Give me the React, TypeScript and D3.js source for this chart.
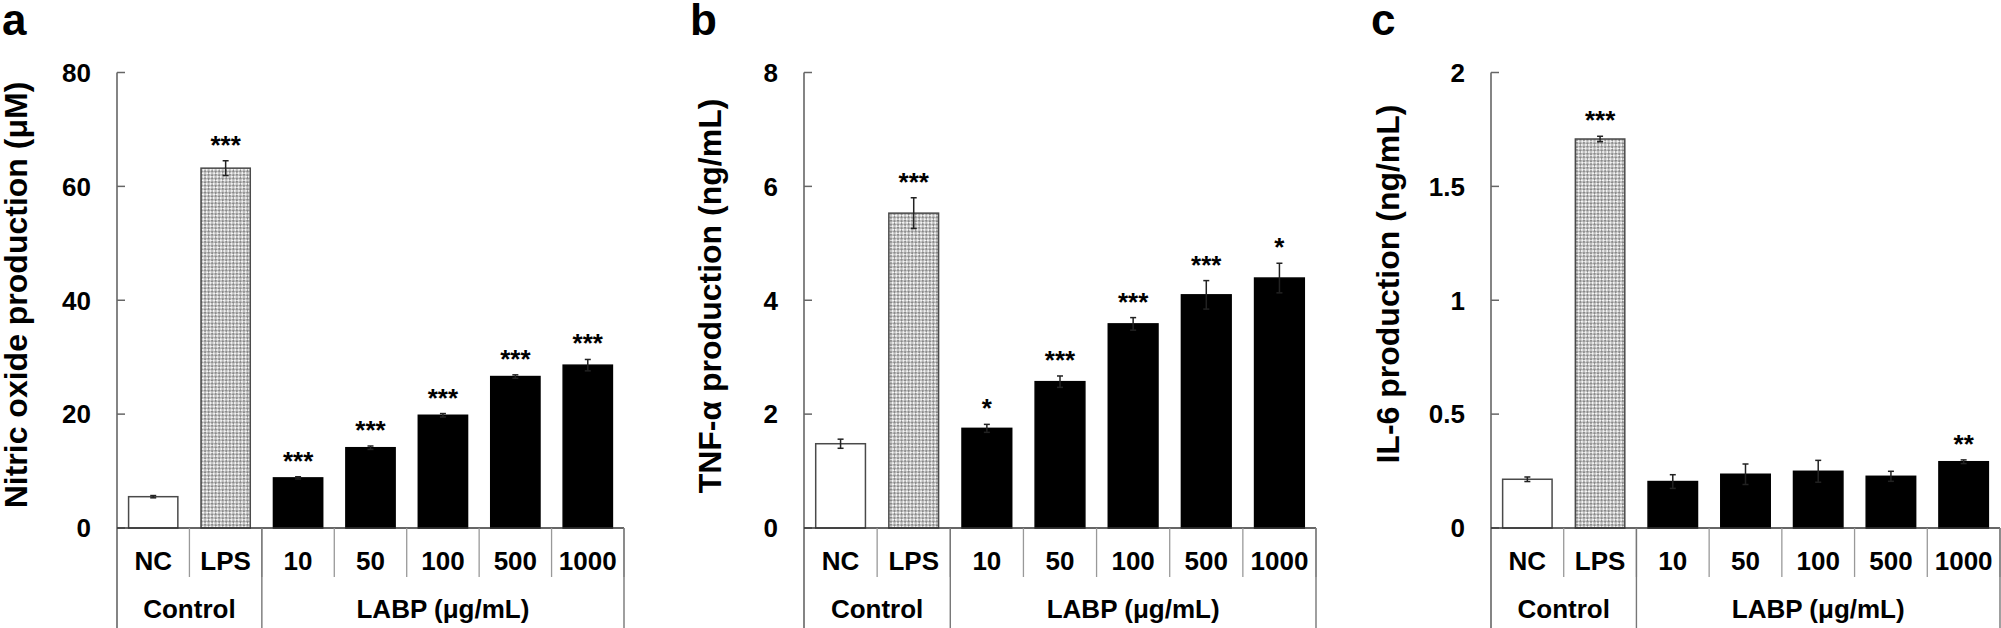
import React from "react";
import * as d3 from "d3";

// ---- data ----
const categories = ["NC", "LPS", "10", "50", "100", "500", "1000"];
const groupLabels = ["Control", "LABP (μg/mL)"];
const groupSpans = [2, 5];

const noValues = [5.5, 63.2, 8.8, 14.1, 19.8, 26.6, 28.6];
const noErrors = [0.2, 1.3, 0.2, 0.3, 0.3, 0.3, 1.0];
const noStars = ["", "***", "***", "***", "***", "***", "***"];
const noTicks = [0, 20, 40, 60, 80];

const tnfValues = [1.48, 5.53, 1.75, 2.57, 3.585, 4.095, 4.39];
const tnfErrors = [0.08, 0.27, 0.07, 0.1, 0.11, 0.25, 0.26];
const tnfStars = ["", "***", "*", "***", "***", "***", "*"];
const tnfTicks = [0, 2, 4, 6, 8];

const il6Values = [0.214, 1.708, 0.204, 0.236, 0.249, 0.227, 0.291];
const il6Errors = [0.01, 0.012, 0.03, 0.045, 0.048, 0.022, 0.008];
const il6Stars = ["", "***", "", "", "", "", "**"];
const il6Ticks = [0, 0.5, 1, 1.5, 2];

const panelLetters = ["a", "b", "c"];
const panelTitles = [
  "Nitric oxide production (μM)",
  "TNF-α production (ng/mL)",
  "IL-6 production (ng/mL)",
];

// ---- layout ----
const WIDTH = 2001;
const HEIGHT = 628;
const Y_TOP = 72.5;
const Y_BASE = 528;
const FONT = "'Liberation Sans', Arial, Helvetica, sans-serif";

const panels = [
  { values: noValues, errors: noErrors, stars: noStars, ticks: noTicks, axisX: 117, width: 507, titleX: 27, titleY: 295, letterX: 2 },
  { values: tnfValues, errors: tnfErrors, stars: tnfStars, ticks: tnfTicks, axisX: 804, width: 512, titleX: 721, titleY: 296, letterX: 690 },
  { values: il6Values, errors: il6Errors, stars: il6Stars, ticks: il6Ticks, axisX: 1491, width: 509, titleX: 1399, titleY: 284, letterX: 1371 },
];

function Panel({ p, idx }: { p: any; idx: number }) {
  const x = d3
    .scaleBand<string>()
    .domain(categories)
    .range([p.axisX, p.axisX + p.width])
    .paddingInner(0.32)
    .paddingOuter(0.16);
  const y = d3
    .scaleLinear()
    .domain([0, p.ticks[p.ticks.length - 1]])
    .range([Y_BASE, Y_TOP]);
  const step = x.step();
  const bw = x.bandwidth();
  const off = (step - bw) / 2;
  const boundaries = categories.map((c) => (x(c) as number) - off);
  boundaries.push(p.axisX + p.width);

  // group boundaries
  const groupEdges: number[] = [0];
  groupSpans.forEach((s) => groupEdges.push(groupEdges[groupEdges.length - 1] + s));

  return (
    <g>
      <text x={p.letterX} y={35} fontFamily={FONT} fontWeight="bold" fontSize={44} fill="#000">
        {panelLetters[idx]}
      </text>
      <text
        transform={`translate(${p.titleX},${p.titleY}) rotate(-90)`}
        textAnchor="middle"
        fontFamily={FONT}
        fontWeight="bold"
        fontSize={32}
        fill="#000"
      >
        {panelTitles[idx]}
      </text>

      {/* bars */}
      {categories.map((c, i) => {
        const v = p.values[i];
        const fill = i === 0 ? "#fff" : i === 1 ? "url(#lpsPattern)" : "#000";
        const stroke = i < 2 ? "#4a4a4a" : "#000";
        return (
          <rect
            key={"b" + c}
            x={x(c)}
            y={y(v)}
            width={bw}
            height={Y_BASE - y(v)}
            fill={fill}
            stroke={stroke}
            strokeWidth={1.5}
          />
        );
      })}

      {/* error bars */}
      {categories.map((c, i) => {
        const cx = (x(c) as number) + bw / 2;
        const v = p.values[i];
        const e = p.errors[i];
        const y1 = y(v + e);
        const y2 = y(v - e);
        return (
          <g key={"e" + c} stroke="#222" strokeWidth={1.5}>
            <line x1={cx} x2={cx} y1={y1} y2={y2} />
            <line x1={cx - 3} x2={cx + 3} y1={y1} y2={y1} />
            <line x1={cx - 3} x2={cx + 3} y1={y2} y2={y2} />
          </g>
        );
      })}

      {/* stars */}
      {categories.map((c, i) =>
        p.stars[i] ? (
          <text
            key={"s" + c}
            x={(x(c) as number) + bw / 2}
            y={y(p.values[i] + p.errors[i]) - 7}
            textAnchor="middle"
            fontFamily={FONT}
            fontWeight="bold"
            fontSize={26}
            fill="#000"
          >
            {p.stars[i]}
          </text>
        ) : null
      )}

      {/* y axis */}
      <line x1={p.axisX} x2={p.axisX} y1={Y_TOP} y2={HEIGHT} stroke="#666" strokeWidth={1.6} />
      {p.ticks.map((t: number) => (
        <g key={"t" + t}>
          <line x1={p.axisX} x2={p.axisX + 8} y1={y(t)} y2={y(t)} stroke="#666" strokeWidth={1.5} />
          <text
            x={p.axisX - 26}
            y={y(t)}
            dy="0.36em"
            textAnchor="end"
            fontFamily={FONT}
            fontWeight="bold"
            fontSize={26}
            fill="#000"
          >
            {String(t)}
          </text>
        </g>
      ))}

      {/* x axis */}
      <line x1={p.axisX} x2={p.axisX + p.width} y1={Y_BASE} y2={Y_BASE} stroke="#333" strokeWidth={1.6} />
      {boundaries.map((bx, i) =>
        i === 0 ? null : (
          <line key={"d" + i} x1={bx} x2={bx} y1={Y_BASE} y2={577} stroke="#999" strokeWidth={1.3} />
        )
      )}
      {groupEdges.map((gi, i) =>
        i === 0 ? null : (
          <line key={"g" + i} x1={boundaries[gi]} x2={boundaries[gi]} y1={Y_BASE} y2={HEIGHT} stroke="#777" strokeWidth={1.4} />
        )
      )}
      {categories.map((c) => (
        <text
          key={"l" + c}
          x={(x(c) as number) + bw / 2}
          y={570}
          textAnchor="middle"
          fontFamily={FONT}
          fontWeight="bold"
          fontSize={26}
          fill="#000"
        >
          {c}
        </text>
      ))}
      {groupLabels.map((g, i) => (
        <text
          key={"gl" + i}
          x={(boundaries[groupEdges[i]] + boundaries[groupEdges[i + 1]]) / 2}
          y={618}
          textAnchor="middle"
          fontFamily={FONT}
          fontWeight="bold"
          fontSize={26}
          fill="#000"
        >
          {g}
        </text>
      ))}
    </g>
  );
}

export default function App() {
  return (
    <svg
      width={WIDTH}
      height={HEIGHT}
      style={{ position: "absolute", left: 0, top: 0, background: "#fff" }}
    >
      <defs>
        <pattern id="lpsPattern" width={5} height={5} patternUnits="userSpaceOnUse" patternTransform="rotate(45)">
          <rect width={5} height={5} fill="#f4f4f4" />
          <rect width={2.5} height={2.5} fill="#8a8a8a" />
          <rect x={2.5} y={2.5} width={2.5} height={2.5} fill="#8a8a8a" />
        </pattern>
      </defs>
      <rect width={WIDTH} height={HEIGHT} fill="#fff" />
      {panels.map((p, i) => (
        <Panel key={i} p={p} idx={i} />
      ))}
    </svg>
  );
}
